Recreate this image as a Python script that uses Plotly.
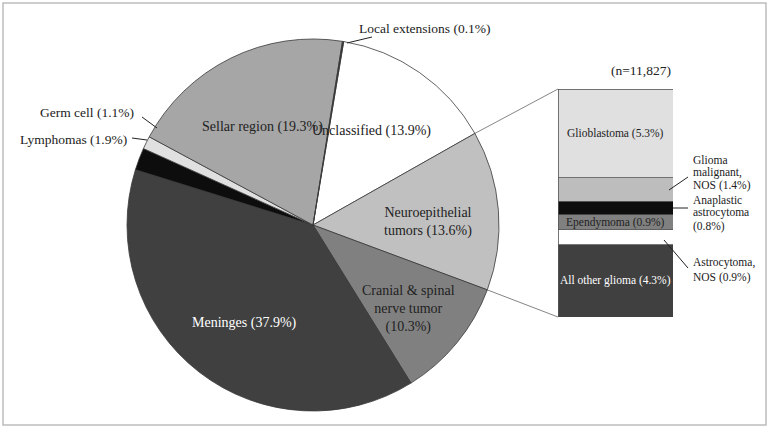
import math
import plotly.graph_objects as go

# pie data (clockwise from the top)
pie_labels = ["Unclassified", "Neuroepithelial tumors", "Cranial & spinal nerve tumor",
              "Meninges", "Lymphomas", "Germ cell", "Sellar region", "Local extensions"]
pie_values = [13.9, 13.6, 10.3, 37.9, 1.9, 1.1, 19.3, 0.1]
pie_colors = ["#ffffff", "#c0c0c0", "#808080", "#404040", "#0d0d0d", "#e0e0e0", "#a6a6a6", "#333333"]

# breakdown of neuroepithelial tumors (bottom to top)
bar_labels = ["All other glioma", "Astrocytoma, NOS", "Ependymoma",
              "Anaplastic astrocytoma", "Glioma malignant, NOS", "Glioblastoma"]
bar_values = [4.3, 0.9, 0.9, 0.8, 1.4, 5.3]
bar_colors = ["#404040", "#ffffff", "#808080", "#0d0d0d", "#bdbdbd", "#e0e0e0"]
n_total = "11,827"

W, H = 769, 429
FONT = "Liberation Serif"


def px(x):
    return x / W


def py(y):
    return 1 - y / H


# pie geometry in pixels
cx, cy, r = 313, 225, 186
rotation = 9.5

fig = go.Figure()

fig.add_trace(go.Pie(
    labels=pie_labels,
    values=pie_values,
    sort=False,
    direction="clockwise",
    rotation=rotation,
    marker=dict(colors=pie_colors, line=dict(color="#3a3a3a", width=0.8)),
    textinfo="none",
    hoverinfo="skip",
    showlegend=False,
    domain=dict(x=[px(cx - r), px(cx + r)], y=[py(cy + r), py(cy - r)]),
))

# stacked bar
bar_left, bar_right, bar_top, bar_bottom = 558, 673, 89, 317
for lab, val, col in zip(bar_labels, bar_values, bar_colors):
    fig.add_trace(go.Bar(
        x=[0], y=[val], width=1,
        marker=dict(color=col, line=dict(color="#555555", width=0.8)),
        hoverinfo="skip", showlegend=False, name=lab,
    ))

total_bar = sum(bar_values)
fig.update_layout(
    barmode="stack",
    width=W, height=H,
    margin=dict(l=0, r=0, t=0, b=0),
    paper_bgcolor="white",
    plot_bgcolor="rgba(0,0,0,0)",
    font=dict(family=FONT, color="#222222"),
    xaxis=dict(domain=[px(bar_left), px(bar_right)], range=[-0.5, 0.5], visible=False, fixedrange=True),
    yaxis=dict(domain=[py(bar_bottom), py(bar_top)], range=[0, total_bar], visible=False, fixedrange=True),
)

annotations = []
shapes = []


def leader(x0, y0, x1, y1):
    shapes.append(dict(type="line", xref="paper", yref="paper",
                       x0=px(x0), y0=py(y0), x1=px(x1), y1=py(y1),
                       line=dict(color="#222222", width=1)))


# pie labels inside slices
pie_text = {
    0: ("Unclassified (13.9%)", 371, 131, "#222222"),
    1: ("Neuroepithelial<br>tumors (13.6%)", 428, 222, "#222222"),
    2: ("Cranial & spinal<br>nerve tumor<br>(10.3%)", 408, 309, "#222222"),
    3: ("Meninges (37.9%)", 245, 323, "#ffffff"),
    6: ("Sellar region (19.3%)", 262, 127, "#222222"),
}
for i, (txt, x, y, c) in pie_text.items():
    annotations.append(dict(
        text=txt, x=px(x), y=py(y), xref="paper", yref="paper",
        showarrow=False, font=dict(size=14, color=c, family=FONT),
        xanchor="center", yanchor="middle", align="center",
    ))

# pie labels outside with leader lines
outside = [
    (7, 357, 28, "left", 347, 43, 372, 37),
    (5, 136, 112, "right", 157, 128, 142, 117),
    (4, 129, 139, "right", 147, 140, 132, 138),
]
for i, tx, ty, anchor, ax0, ay0, ax1, ay1 in outside:
    txt = f"{pie_labels[i]} ({pie_values[i]}%)"
    annotations.append(dict(
        text=txt, x=px(tx), y=py(ty), xref="paper", yref="paper",
        showarrow=False, font=dict(size=13.5, family=FONT),
        xanchor=anchor, yanchor="middle",
    ))
    leader(ax0, ay0, ax1, ay1)

# bar labels inside segments
cum = 0
mids = []
for v in bar_values:
    mids.append(cum + v / 2)
    cum += v
for i, c in [(5, "#222222"), (2, "#222222"), (0, "#ffffff")]:
    annotations.append(dict(
        text=f"{bar_labels[i]} ({bar_values[i]}%)", x=0, y=mids[i], xref="x", yref="y",
        showarrow=False, font=dict(size=11.5, color=c, family=FONT),
    ))

# bar labels outside with leader lines (one annotation per text line)
right_text = [
    (["Glioma", "malignant,", "NOS (1.4%)"], [159.5, 172.5, 185.5], (669, 190, 688, 177)),
    (["Anaplastic", "astrocytoma", "(0.8%)"], [200, 213, 226], (673, 208, 688, 208)),
    (["Astrocytoma,", "NOS (0.9%)"], [262, 277], (664, 240, 688, 268)),
]
for lines, ys, (ax0, ay0, ax1, ay1) in right_text:
    for line, ty in zip(lines, ys):
        annotations.append(dict(
            text=line, x=px(692), y=py(ty), xref="paper", yref="paper",
            showarrow=False, font=dict(size=11.5, family=FONT), borderpad=0,
            xanchor="left", yanchor="middle", align="left",
        ))
    leader(ax0, ay0, ax1, ay1)

annotations.append(dict(
    text=f"(n={n_total})", x=px(bar_right), y=py(70), xref="paper", yref="paper",
    showarrow=False, font=dict(size=13.5, family=FONT), xanchor="right", yanchor="middle",
))

fig.update_layout(annotations=annotations)

# connector lines from the neuroepithelial slice to the bar
total = sum(pie_values)
a0 = math.radians(rotation + 360 * pie_values[0] / total)
a1 = math.radians(rotation + 360 * (pie_values[0] + pie_values[1]) / total)
for a, by in [(a0, bar_top), (a1, bar_bottom)]:
    x0 = cx + r * math.sin(a)
    y0 = cy - r * math.cos(a)
    shapes.append(dict(type="line", xref="paper", yref="paper",
                       x0=px(x0), y0=py(y0), x1=px(bar_left), y1=py(by),
                       line=dict(color="#666666", width=0.8)))

# frame
shapes.append(dict(type="rect", xref="paper", yref="paper",
                   x0=px(3), y0=py(425), x1=px(766), y1=py(3),
                   line=dict(color="#bdbdbd", width=1.5)))
fig.update_layout(shapes=shapes)

fig.write_html("out.html", config={"displayModeBar": False},
               post_script="document.body.style.margin = '0';")
